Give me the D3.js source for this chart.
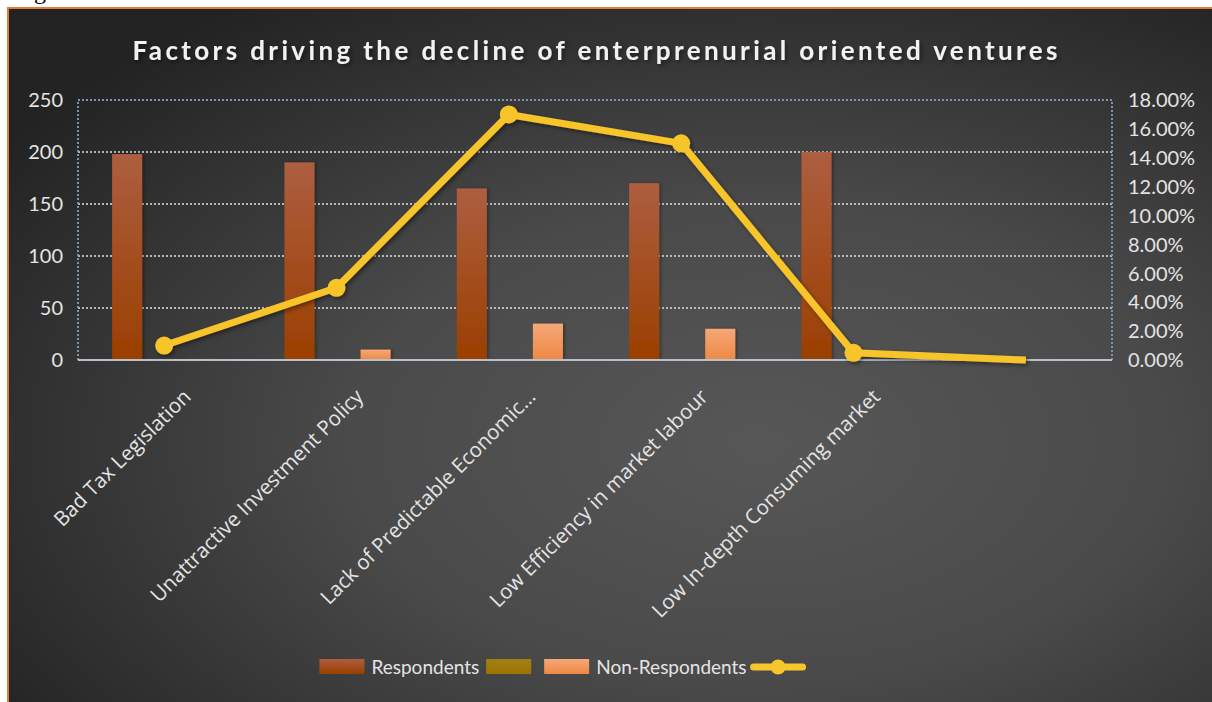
<!DOCTYPE html>
<html>
<head>
<meta charset="utf-8">
<script src="https://cdn.jsdelivr.net/npm/d3@7"></script>
<style>
  html, body { margin: 0; padding: 0; background: #fff; }
  svg { display: block; font-family: Lato, "Open Sans", sans-serif; }
  .tick-label { fill: #e4e4e4; font-size: 20px; }
  .cat-label { fill: #e4e4e4; font-size: 20.5px; font-family: "Open Sans", sans-serif; }
  .legend-label { fill: #e4e4e4; font-size: 19px; }
</style>
</head>
<body>
<svg width="1212" height="702"></svg>
<script>
const WIDTH = 1212;
const HEIGHT = 702;

const categories = [
  "Bad Tax Legislation",
  "Unattractive Investment Policy",
  "Lack of Predictable Economic\u2026",
  "Low Efficiency in market labour",
  "Low In-depth Consuming market",
  ""
];
const respondents = [198, 190, 165, 170, 200, 0];
const unnamedSeries = [0, 0, 0, 0, 0, 0];
const nonRespondents = [1, 10, 35, 30, 0, 0];
const share = [0.01, 0.05, 0.17, 0.15, 0.005, 0];

const leftTicks = [0, 50, 100, 150, 200, 250];
const rightTicks = [0, 0.02, 0.04, 0.06, 0.08, 0.10, 0.12, 0.14, 0.16, 0.18];

const barSeries = [
  { name: "Respondents", values: respondents, top: "#ad5e40", bottom: "#9b3f00" },
  { name: "", values: unnamedSeries, top: "#a37f14", bottom: "#9c7400" },
  { name: "Non-Respondents", values: nonRespondents, top: "#f5a878", bottom: "#ee8842" }
];
const LINE_COLOR = "#f7c52c";

const plot = { left: 78, right: 1112, top: 100, bottom: 360 };

const svg = d3.select("svg");
const defs = svg.append("defs");

// background
const bg = defs.append("radialGradient").attr("id", "bg")
  .attr("cx", "62%").attr("cy", "62%").attr("r", "75%");
bg.append("stop").attr("offset", "0%").attr("stop-color", "#575757");
bg.append("stop").attr("offset", "45%").attr("stop-color", "#4a4a4a");
bg.append("stop").attr("offset", "100%").attr("stop-color", "#232323");

barSeries.forEach((s, i) => {
  const g = defs.append("linearGradient").attr("id", "bar" + i)
    .attr("x1", 0).attr("y1", 0).attr("x2", 0).attr("y2", 1);
  g.append("stop").attr("offset", "0%").attr("stop-color", s.top);
  g.append("stop").attr("offset", "100%").attr("stop-color", s.bottom);
});

const shadow = defs.append("filter").attr("id", "shadow")
  .attr("x", "-20%").attr("y", "-20%").attr("width", "140%").attr("height", "140%");
shadow.append("feDropShadow").attr("dx", 2).attr("dy", 2).attr("stdDeviation", 2)
  .attr("flood-color", "#000").attr("flood-opacity", 0.45);

const barShadow = defs.append("filter").attr("id", "barShadow")
  .attr("x", "-30%").attr("y", "-10%").attr("width", "160%").attr("height", "120%");
barShadow.append("feDropShadow").attr("dx", 2).attr("dy", 0).attr("stdDeviation", 1.5)
  .attr("flood-color", "#000").attr("flood-opacity", 0.3);

// page fragment above the chart box
svg.append("text").attr("x", 34).attr("y", -1)
  .style("font-family", "Liberation Serif").style("font-size", "24px")
  .attr("fill", "#000").text("g");

svg.append("rect")
  .attr("x", 8).attr("y", 8).attr("width", WIDTH).attr("height", HEIGHT)
  .attr("fill", "url(#bg)")
  .attr("stroke", "#e07b39").attr("stroke-width", 2);

// title
svg.append("text")
  .attr("x", 595).attr("y", 60)
  .attr("text-anchor", "middle")
  .attr("fill", "#f2f2f2")
  .style("font-size", "26px").style("font-weight", "bold")
  .attr("filter", "url(#shadow)")
  .attr("textLength", 925).attr("lengthAdjust", "spacing")
  .text("Factors driving the decline of enterprenurial oriented ventures");

// scales
const x = d3.scaleBand().domain(categories.map((d, i) => i))
  .range([plot.left, plot.right]).padding(0);
const xSub = d3.scaleBand().domain(barSeries.map((d, i) => i))
  .range([x.bandwidth() * 0.198, x.bandwidth() * 0.814]).paddingInner(0.21);
const yLeft = d3.scaleLinear().domain([0, 250]).range([plot.bottom, plot.top]);
const yRight = d3.scaleLinear().domain([0, 0.18]).range([plot.bottom, plot.top]);

// gridlines
const grid = svg.append("g");
grid.selectAll("line.grid")
  .data(leftTicks.filter(t => t > 0 && t < 250))
  .join("line")
  .attr("x1", plot.left).attr("x2", plot.right)
  .attr("y1", d => yLeft(d)).attr("y2", d => yLeft(d))
  .attr("stroke", "#cfcfcf").attr("stroke-opacity", 0.85)
  .attr("stroke-width", 2).attr("stroke-dasharray", "2,2");

// plot area border (top + sides), bluish dotted
grid.append("path")
  .attr("d", `M${plot.left},${plot.bottom}V${plot.top}H${plot.right}V${plot.bottom}`)
  .attr("fill", "none").attr("stroke", "#7d93b0")
  .attr("stroke-width", 2).attr("stroke-dasharray", "2,2");

// bars
const bars = svg.append("g");
barSeries.forEach((s, si) => {
  bars.append("g").selectAll("rect")
    .data(s.values)
    .join("rect")
    .attr("x", (d, i) => x(i) + xSub(si))
    .attr("width", xSub.bandwidth())
    .attr("y", d => yLeft(d))
    .attr("height", d => yLeft(0) - yLeft(d))
    .attr("fill", `url(#bar${si})`)
    .attr("filter", "url(#barShadow)");
});

// baseline
svg.append("line")
  .attr("x1", plot.left).attr("x2", plot.right)
  .attr("y1", yLeft(0)).attr("y2", yLeft(0))
  .attr("stroke", "#b9c0c9").attr("stroke-width", 2);

// line series on secondary axis
const lineGen = d3.line()
  .x((d, i) => x(i) + x.bandwidth() / 2)
  .y(d => yRight(d));
const lineG = svg.append("g").attr("filter", "url(#shadow)");
lineG.append("path")
  .datum(share)
  .attr("d", lineGen)
  .attr("fill", "none").attr("stroke", LINE_COLOR)
  .attr("stroke-width", 7).attr("stroke-linejoin", "round");
lineG.selectAll("circle")
  .data(share.slice(0, share.length - 1))
  .join("circle")
  .attr("cx", (d, i) => x(i) + x.bandwidth() / 2)
  .attr("cy", d => yRight(d))
  .attr("r", 9)
  .attr("fill", LINE_COLOR);

// left axis labels
svg.append("g").selectAll("text")
  .data(leftTicks)
  .join("text")
  .attr("class", "tick-label")
  .attr("x", 63).attr("y", d => yLeft(d))
  .attr("dy", "0.36em").attr("text-anchor", "end")
  .text(d => d);

// right axis labels
const pct = d3.format(".2%");
svg.append("g").selectAll("text")
  .data(rightTicks)
  .join("text")
  .attr("class", "tick-label")
  .attr("x", 1128).attr("y", d => yRight(d))
  .attr("dy", "0.36em").attr("text-anchor", "start")
  .text(d => pct(d));

// category labels, rotated
svg.append("g").selectAll("text")
  .data(categories)
  .join("text")
  .attr("class", "cat-label")
  .attr("text-anchor", "end")
  .attr("transform", (d, i) => `translate(${x(i) + x.bandwidth() / 2 + 28}, 398) rotate(-45)`)
  .text(d => d);

// legend
const legend = svg.append("g");
const items = [
  { type: "bar", idx: 0, label: "Respondents" },
  { type: "bar", idx: 1, label: "" },
  { type: "bar", idx: 2, label: "Non-Respondents" },
  { type: "line", label: "" }
];
let cx = 0;
items.forEach(it => {
  if (it.type === "bar") {
    legend.append("rect").attr("x", cx).attr("y", -8).attr("width", 45).attr("height", 15)
      .attr("fill", `url(#bar${it.idx})`);
    cx += 45 + 7;
  } else {
    legend.append("line").attr("x1", cx).attr("x2", cx + 49).attr("y1", 0).attr("y2", 0)
      .attr("stroke", LINE_COLOR).attr("stroke-width", 7).attr("stroke-linecap", "round");
    legend.append("circle").attr("cx", cx + 24.5).attr("cy", 0).attr("r", 7.5).attr("fill", LINE_COLOR);
    cx += 49;
  }
  if (it.label) {
    const t = legend.append("text").attr("class", "legend-label")
      .attr("x", cx).attr("y", 0).attr("dy", "0.36em").text(it.label);
    cx += t.node().getComputedTextLength() + 7;
  } else if (it.type === "bar") {
    cx += 6;
  }
});
legend.attr("transform", `translate(${561 - cx / 2}, 667)`);
</script>
</body>
</html>
